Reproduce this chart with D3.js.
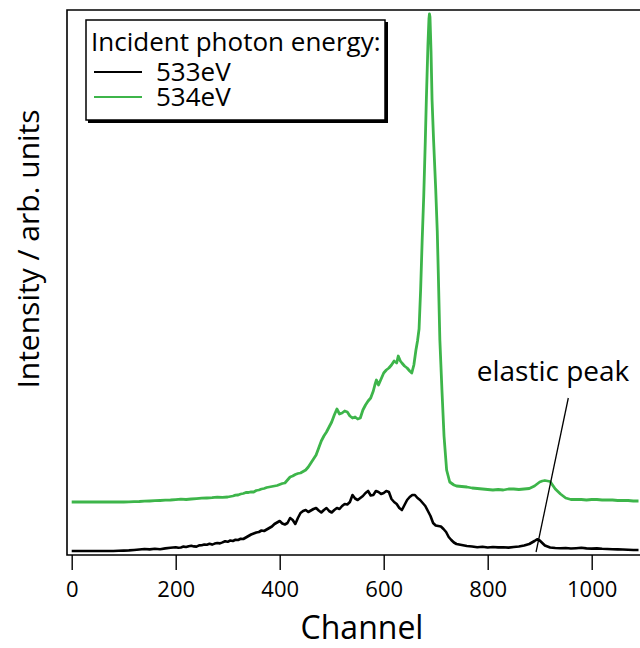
<!DOCTYPE html>
<html><head><meta charset="utf-8">
<script src="https://cdn.jsdelivr.net/npm/d3@7"></script>
<style>
body{margin:0;background:#fff}
svg{display:block}
text{font-family:"Open Sans","Noto Sans",sans-serif;fill:#000}
</style>
</head><body>
<svg id="chart" width="640" height="648"></svg>
<script>
// ---- data ----
const channels533 = [0,10,20,30,40,50,60,70,80,90,100,110,120,130,140,150,160,170,180,190,
  200,205,210,215,220,225,230,235,240,245,250,255,260,265,270,275,280,285,290,295,
  300,305,310,315,320,325,330,335,340,345,350,355,360,365,370,375,380,385,390,395,
  400,405,410,415,420,425,430,435,440,445,450,455,460,465,470,475,480,485,490,495,
  500,505,510,515,520,525,530,535,540,545,550,555,560,565,570,575,580,585,590,595,
  600,605,610,615,620,625,630,635,640,645,650,655,660,665,670,675,680,685,690,695,
  700,705,710,715,720,725,730,735,740,745,750,760,770,780,790,800,810,820,830,840,850,860,870,880,890,895,900,910,920,930,940,950,960,970,980,990,1000,1010,1020,1030,1040,1050,1060,1070,1080,1090];
const intensity533 = [0,0,0,0,0,0,0,0,0,0.2,0.4,0.6,1,1.5,2,1.6,2.2,1.8,2.6,3.2,
  3.8,3.2,3.5,4.4,4,4.8,5.2,4.6,4.4,5.6,5.8,6.5,6.3,7.2,6.4,7.4,8,7.6,8.6,9.8,
  9.2,10.5,10,11.2,11,12.2,12,13.5,15,16.5,17.5,18.5,19,20.5,20,21.5,23,24.5,27,28.5,
  30,27.5,26.5,28,33,31,27,33,38,40,41,39,40.5,42,43,40.5,38.5,41,43,40,
  38.5,41,43,42,45,47,46.5,49,56,52.5,51,53,55,58,60,55.5,56,60,59,57,
  58,60,59,52,49,47,43,41,46,51,54,56,56,53,51,48,45,40,35,28,
  25.5,25,24.5,22,19,14,11,8.5,7,6.5,6,5,4.5,3.8,4.2,3.5,4,3.6,3.8,3.4,4,4.5,5.5,7,10,11.7,10.5,5.5,3.5,3,2.8,3,2.5,2.8,3.2,2.6,2.4,2.6,2.2,2,1.8,1.6,1.5,1.2,1,1];

const channels534 = [0,10,20,30,40,50,60,70,80,90,100,110,120,130,140,150,160,170,180,190,200,210,220,230,240,250,260,270,280,290,
  300,305,310,315,320,325,330,335,340,345,350,355,360,365,370,375,380,385,390,395,
  400,405,410,415,420,425,430,435,440,445,450,455,460,465,470,475,480,485,490,495,
  500,505,510,515,520,525,530,535,540,545,550,555,560,565,570,575,580,583,586,590,595,
  600,605,610,615,620,625,628,632,635,640,645,650,654,658,662,665,668,671,674,677,680,682,685,687,688,689,691,693,696,
  700,703,705,708,712,716,721,727,735,740,750,760,770,780,790,800,810,820,830,840,850,860,870,880,890,900,905,910,915,920,930,940,950,960,970,980,990,1000,1010,1020,1030,1040,1050,1060,1070,1080,1090];
const intensity534 = [49,49,49,49,49,49,49,49,49,49,49,49.2,49.4,49.5,49.8,50,50.3,50.5,50.8,51,51.4,51.8,51.5,52,52.4,52.8,53,53.3,53.8,53.6,
  54,54.5,55,55.8,56,57,57.5,58.5,58.5,59.2,59,60.5,61,62,62.5,63.5,64,64.5,65,65.5,
  66.5,67.5,68,71,74,75,76.5,77.5,78,79.5,81,84,88,92,96,103,110,115,119,124,
  129,136,142,137,138,140,139,135,133,134,132,133,141,146,150,153,160,166,171,166,172,
  178,181,183,186,190,188,195,190,188,185,183,180,178,186,201,210,222,261,311,355,410,451,505,532,537,534,500,451,410,
  362,320,278,211,161,115,81,69,66,65,64.5,64,63,62.5,62,61.5,61,61.5,61,62,62,61.5,62,62.5,65,69,70,70.5,70,69.5,62,57,53,51.5,51.5,51.5,51,51.5,51.5,51,51,51,50.5,50.5,50.5,50,50];

const seriesNames = ["533eV", "534eV"];
const seriesColors = ["#000000", "#3db54a"];
const legendTitle = "Incident photon energy:";
const xTicks = [0, 200, 400, 600, 800, 1000];
const xLabel = "Channel";
const yLabel = "Intensity / arb. units";
const annotationText = "elastic peak";
const annotationFrom = [955, 153];   // [channel, intensity] at label end
const annotationTo = [893, -1];      // [channel, intensity] at peak

// ---- layout ----
const svg = d3.select("#chart");
const L = 67, T = 10, R = 640, B = 555;

const x = d3.scaleLinear().domain([0, 1000]).range([71.7, 591.7]);
const y = d3.scaleLinear().domain([-4, 541]).range([B, T]);

svg.append("defs").append("clipPath").attr("id", "clip")
  .append("rect").attr("x", L).attr("y", T).attr("width", R - L + 5).attr("height", B - T);

// frame (left, top, bottom)
svg.append("path")
  .attr("d", `M${R + 5},${T}H${L}V${B}H${R + 5}`)
  .attr("fill", "none").attr("stroke", "#000").attr("stroke-width", 1.6);

// x axis ticks
const xAxis = d3.axisBottom(x).tickValues(xTicks).tickSize(15).tickPadding(11).tickFormat(d3.format("d"));
const gx = svg.append("g").attr("transform", `translate(0,${B})`).call(xAxis);
gx.select(".domain").remove();
gx.selectAll(".tick line").attr("stroke", "#000").attr("stroke-width", 1.4);
gx.selectAll(".tick text").attr("font-size", 22).attr("font-family", '"Open Sans",sans-serif').attr("fill", "#000");

// axis titles
svg.append("text").attr("x", 362).attr("y", 639).attr("text-anchor", "middle")
  .attr("font-size", 32).text(xLabel);
svg.append("text").attr("transform", "translate(39,249) rotate(-90)").attr("text-anchor", "middle")
  .attr("font-size", 30).text(yLabel);

// lines
const line = d3.line().x(d => x(d[0])).y(d => y(d[1]));
const plot = svg.append("g").attr("clip-path", "url(#clip)");
const series = [
  d3.zip(channels533, intensity533),
  d3.zip(channels534, intensity534)
];
plot.append("path").datum(series[0]).attr("d", line)
  .attr("fill", "none").attr("stroke", seriesColors[0]).attr("stroke-width", 2.6).attr("stroke-linejoin", "round");
plot.append("path").datum(series[1]).attr("d", line)
  .attr("fill", "none").attr("stroke", seriesColors[1]).attr("stroke-width", 2.8).attr("stroke-linejoin", "round");

// annotation
svg.append("line")
  .attr("x1", x(annotationFrom[0])).attr("y1", y(annotationFrom[1]))
  .attr("x2", x(annotationTo[0])).attr("y2", y(annotationTo[1]))
  .attr("stroke", "#000").attr("stroke-width", 1.3);
svg.append("text").attr("x", 553).attr("y", 381).attr("text-anchor", "middle")
  .attr("font-size", 28).text(annotationText);

// legend
const lg = svg.append("g");
lg.append("rect").attr("x", 88).attr("y", 22).attr("width", 300).attr("height", 101).attr("fill", "#000");
lg.append("rect").attr("x", 86).attr("y", 20).attr("width", 299).attr("height", 100)
  .attr("fill", "#fff").attr("stroke", "#000").attr("stroke-width", 1.5);
lg.append("text").attr("x", 91).attr("y", 51).attr("font-size", 26).text(legendTitle);
seriesNames.forEach((n, i) => {
  const yy = 72 + i * 25;
  lg.append("line").attr("x1", 94).attr("x2", 142).attr("y1", yy).attr("y2", yy)
    .attr("stroke", seriesColors[i]).attr("stroke-width", 2.2);
  lg.append("text").attr("x", 156).attr("y", yy + 9).attr("font-size", 26).text(n);
});
</script>
</body></html>
